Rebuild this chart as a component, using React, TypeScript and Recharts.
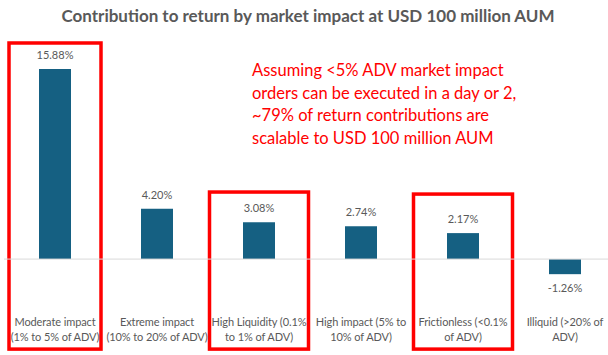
import { BarChart, Bar, XAxis, YAxis, ReferenceLine, ReferenceArea, LabelList } from 'recharts'

const categories = [
  'Moderate impact (1% to 5% of ADV)',
  'Extreme impact (10% to 20% of ADV)',
  'High Liquidity (0.1% to 1% of ADV)',
  'High impact (5% to 10% of ADV)',
  'Frictionless (<0.1% of ADV)',
  'Illiquid (>20% of ADV)',
]
const tickLines = [
  ['Moderate impact', '(1% to 5% of ADV)'],
  ['Extreme impact', '(10% to 20% of ADV)'],
  ['High Liquidity (0.1%', 'to 1% of ADV)'],
  ['High impact (5% to', '10% of ADV)'],
  ['Frictionless (<0.1%', 'of ADV)'],
  ['Illiquid (>20% of', 'ADV)'],
]
const contribution = [15.88, 4.2, 3.08, 2.74, 2.17, -1.26]

// highlighted categories: [category index, top value, box width]
const highlights: [number, number, number][] = [
  [0, 18.05, 92],
  [2, 5.6, 99],
  [4, 5.43, 99],
]
const boxBottom = -7.52

const noteLines = [
  'Assuming <5% ADV market impact',
  'orders can be executed in a day or 2,',
  '~79% of return contributions are',
  'scalable to USD 100 million AUM',
]

const data = categories.map((name, i) => ({ name, value: contribution[i] }))

const GRAY = '#595959'
const FONT = 'Lato, "Open Sans", sans-serif'

const CategoryTick = ({ x, y, index }: any) => {
  const lines = tickLines[index] || []
  return (
    <text x={x} y={y} textAnchor="middle" fontSize={11} letterSpacing={-0.1} fill={GRAY} fontFamily={FONT}>
      {lines.map((l, i) => (
        <tspan key={i} x={x} dy={i === 0 ? 31 : 15}>{l}</tspan>
      ))}
    </text>
  )
}

const ValueLabel = ({ x, y, width, height, value }: any) => {
  const top = Math.min(y, y + height)
  const bottom = Math.max(y, y + height)
  const neg = value < 0
  return (
    <text
      x={x + width / 2}
      y={neg ? bottom + 18 : top - 10}
      textAnchor="middle"
      fontSize={11}
      fill={GRAY}
      fontFamily={FONT}
    >
      {value.toFixed(2)}%
    </text>
  )
}

const HighlightBox = (w: number) => (props: any) => {
  const { x, y, width, height } = props
  const cx = x + width / 2
  return <rect x={cx - w / 2} y={y} width={w} height={height} fill="none" stroke="#FF0000" strokeWidth={3.5} />
}

export default function App() {
  return (
    <div style={{ position: 'absolute', left: 0, top: 0, width: 608, height: 355, overflow: 'hidden', background: '#fff' }}>
      <div
        style={{
          position: 'absolute', left: 0, top: 5, width: 616, textAlign: 'center',
          fontFamily: FONT, fontWeight: 700, fontSize: 17, color: GRAY,
        }}
      >
        Contribution to return by market impact at USD 100 million AUM
      </div>
      <BarChart width={616} height={355} data={data} margin={{ top: 40, right: 0, left: 4, bottom: 5 }}>
        <XAxis
          dataKey="name"
          axisLine={false}
          tickLine={false}
          tickSize={0}
          tickMargin={0}
          height={55}
          interval={0}
          tick={<CategoryTick />}
        />
        <YAxis hide domain={[-3, 18.3]} />
        <ReferenceLine y={0} stroke="#d9d9d9" strokeWidth={1} />
        {highlights.map(([idx, top, w]) => (
          <ReferenceArea
            key={idx}
            x1={categories[idx]}
            x2={categories[idx]}
            y1={boxBottom}
            y2={top}
            ifOverflow="visible"
            shape={HighlightBox(w)}
          />
        ))}
        <Bar dataKey="value" fill="#156082" barSize={32} isAnimationActive={false}>
          <LabelList dataKey="value" content={<ValueLabel />} />
        </Bar>
      </BarChart>
      <div
        style={{
          position: 'absolute', left: 252, top: 59, fontFamily: FONT, fontSize: 16.5,
          lineHeight: '22.5px', color: '#FF0000', whiteSpace: 'nowrap',
        }}
      >
        {noteLines.map((l, i) => (
          <div key={i}>{l}</div>
        ))}
      </div>
    </div>
  )
}
